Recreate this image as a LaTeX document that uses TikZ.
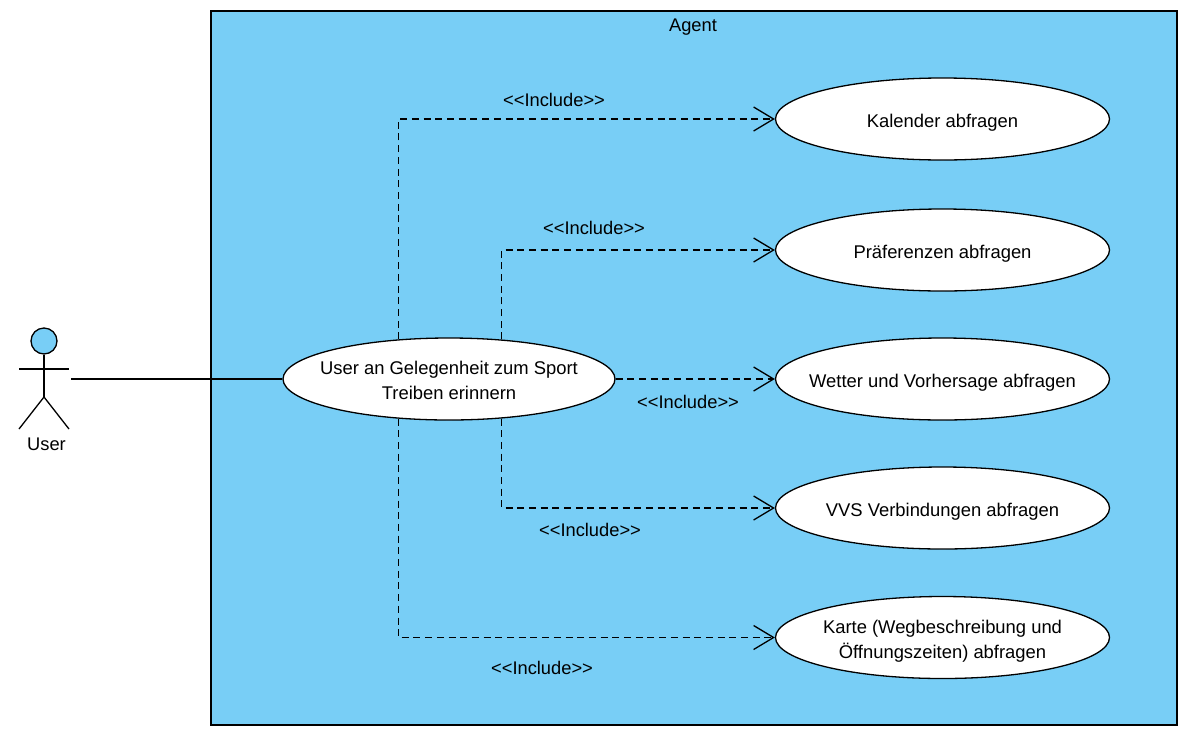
\documentclass[tikz,border=0pt]{standalone}
\usepackage{fontspec}
\setmainfont{Liberation Sans}
\usepackage{tikz}
\usetikzlibrary{positioning,arrows.meta,shapes.geometric}
\definecolor{agentblue}{HTML}{78CEF6}

\begin{document}
\begin{tikzpicture}[
  x=1pt, y=-1pt,
  sysbox/.style={draw=black, line width=1.3pt, fill=agentblue, minimum width=966pt,
                 minimum height=714pt, inner sep=0pt},
  usecase/.style={draw=black, line width=1.3pt, fill=white, ellipse, inner xsep=-40pt,
                  inner ysep=-20pt, minimum width=334pt, minimum height=82pt, align=center,
                  font=\fontsize{18.4pt}{25pt}\selectfont, text height=19pt, text depth=2pt},
  usecasetwo/.style={usecase, text height=43pt, text depth=2pt},
  incl/.style={-{Straight Barb[length=20pt, width=24pt, line width=1.3pt]}, line width=1.3pt,
               dash pattern=on 7pt off 4.7pt},
  assoc/.style={line width=1.3pt},
  limb/.style={line width=1.3pt},
  note/.style={font=\fontsize{18.3pt}{21pt}\selectfont, inner sep=0pt},
]
\useasboundingbox (0,0) rectangle (1190,745);

% ---- system boundary ----
\node[sysbox] (agent) at (694,368) {};
\node[note] (agentlabel) at (693,27) {Agent};

% ---- use cases ----
\node[usecasetwo, minimum width=332pt] (main) at (449,379) {User an Gelegenheit zum Sport\\Treiben erinnern};
\node[usecase] (kal) at (942.5,119) {Kalender abfragen};
\node[usecase] (pref) at (942.5,250) {Präferenzen abfragen};
\node[usecase] (wet) at (942.5,379) {Wetter und Vorhersage abfragen};
\node[usecase] (vvs) at (942.5,508) {VVS Verbindungen abfragen};
\node[usecasetwo] (karte) at (942.5,637.5) {Karte (Wegbeschreibung und\\Öffnungszeiten) abfragen};

% ---- actor ----
\node[draw=black, line width=1.3pt, fill=agentblue, circle, minimum size=26pt, inner sep=0pt]
  (head) at (44,341) {};
\coordinate (hip) at (44,397);
\coordinate (armL) at (19,369);
\coordinate (armR) at (69,369);
\coordinate (footL) at (19,429);
\coordinate (footR) at (69,429);
\coordinate (hand) at (71,379);
\draw[limb] (head.south) -- (hip);
\draw[limb] (armL) -- (armR);
\draw[limb] (footL) -- (hip) -- (footR);
\node[note] (user) at (46.5,444) {User};
\draw[assoc] (hand) -- (main.west);

% ---- include relations ----
\draw[incl] (main.142.5) |- (kal.west);
\draw[incl] (main.37) |- (pref.west);
\draw[incl] (main.east) -- (wet.west);
\draw[incl] (main.-37) |- (vvs.west);
\draw[incl] (main.-142.5) |- (karte.west);

\node[note] (inc1) at (554,100) {<{}<Include>{}>};
\node[note] (inc2) at (594,228) {<{}<Include>{}>};
\node[note] (inc3) at (688,402) {<{}<Include>{}>};
\node[note] (inc4) at (590,530) {<{}<Include>{}>};
\node[note] (inc5) at (542,668) {<{}<Include>{}>};

\end{tikzpicture}
\end{document}
